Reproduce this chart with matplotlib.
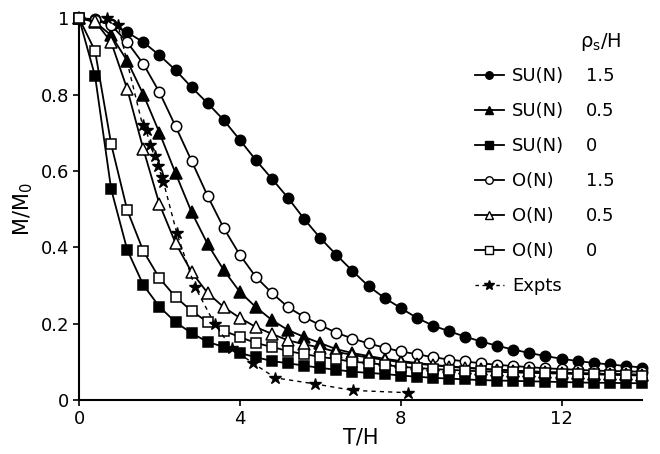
import matplotlib
matplotlib.use("Agg")
import matplotlib.pyplot as plt
from matplotlib.lines import Line2D

plt.rcParams['font.family'] = ['DejaVu Sans']

# model curves, sampled every 0.4 in T/H
t_model = [0.0, 0.4, 0.8, 1.2, 1.6, 2.0, 2.4, 2.8, 3.2, 3.6, 4.0, 4.4,
           4.8, 5.2, 5.6, 6.0, 6.4, 6.8, 7.2, 7.6, 8.0, 8.4, 8.8, 9.2,
           9.6, 10.0, 10.4, 10.8, 11.2, 11.6, 12.0, 12.4, 12.8, 13.2, 13.6, 14.0]

su_15 = [1.0, 0.997, 0.985, 0.963, 0.937, 0.903, 0.864, 0.819, 0.777, 0.733, 0.681, 0.628,
         0.579, 0.529, 0.474, 0.424, 0.380, 0.338, 0.298, 0.267, 0.241, 0.215, 0.195, 0.180,
         0.166, 0.153, 0.142, 0.132, 0.123, 0.115, 0.108, 0.102, 0.097, 0.093, 0.089, 0.085]
su_05 = [1.0, 0.99, 0.955, 0.888, 0.80, 0.70, 0.594, 0.492, 0.408, 0.340, 0.283, 0.243,
         0.209, 0.183, 0.165, 0.149, 0.133, 0.123, 0.115, 0.108, 0.102, 0.097, 0.092, 0.088,
         0.085, 0.082, 0.079, 0.077, 0.075, 0.073, 0.072, 0.070, 0.069, 0.068, 0.067, 0.066]
su_0 = [1.0, 0.848, 0.552, 0.393, 0.301, 0.244, 0.204, 0.175, 0.152, 0.139, 0.123, 0.112,
        0.102, 0.096, 0.090, 0.084, 0.079, 0.074, 0.071, 0.068, 0.064, 0.061, 0.058, 0.056,
        0.054, 0.052, 0.051, 0.050, 0.049, 0.048, 0.047, 0.046, 0.045, 0.045, 0.044, 0.044]
o_15 = [1.0, 0.995, 0.982, 0.937, 0.880, 0.806, 0.717, 0.626, 0.534, 0.450, 0.380, 0.322,
        0.280, 0.243, 0.217, 0.196, 0.176, 0.161, 0.148, 0.137, 0.127, 0.120, 0.112, 0.106,
        0.101, 0.096, 0.092, 0.089, 0.086, 0.083, 0.081, 0.079, 0.077, 0.076, 0.075, 0.074]
o_05 = [1.0, 0.992, 0.937, 0.814, 0.657, 0.513, 0.411, 0.335, 0.280, 0.243, 0.215, 0.191,
        0.173, 0.156, 0.146, 0.137, 0.126, 0.118, 0.111, 0.105, 0.099, 0.095, 0.091, 0.087,
        0.084, 0.081, 0.079, 0.077, 0.075, 0.073, 0.071, 0.070, 0.069, 0.068, 0.067, 0.066]
o_0 = [1.0, 0.914, 0.670, 0.497, 0.390, 0.319, 0.270, 0.233, 0.204, 0.181, 0.165, 0.149,
       0.139, 0.128, 0.120, 0.113, 0.107, 0.100, 0.097, 0.092, 0.087, 0.084, 0.081, 0.079,
       0.077, 0.075, 0.074, 0.072, 0.071, 0.070, 0.069, 0.068, 0.067, 0.066, 0.065, 0.064]

# experiment
t_exp = [0.7, 0.97, 1.58, 1.68, 1.76, 1.88, 1.96, 2.06, 2.1, 2.43, 2.88, 3.37,
         3.8, 4.32, 4.88, 5.87, 6.82, 8.19]
m_exp = [1.0, 0.983, 0.72, 0.706, 0.668, 0.64, 0.612, 0.585, 0.571, 0.438, 0.297, 0.2,
         0.135, 0.097, 0.058, 0.042, 0.025, 0.019]

names = ['SU(N)', 'SU(N)', 'SU(N)', 'O(N)', 'O(N)', 'O(N)']
rho = ['1.5', '0.5', '0', '1.5', '0.5', '0']
curves = [su_15, su_05, su_0, o_15, o_05, o_0]
marks = ['o', '^', 's', 'o', '^', 's']
fills = ['k', 'k', 'k', 'w', 'w', 'w']
sizes = [7.5, 8, 7.5, 7.5, 8, 7.5]

fig = plt.figure(figsize=(6.6, 4.54), dpi=100)
ax = fig.add_axes([0.1197, 0.119, 0.853, 0.841])

handles = []
for y, m, fc, ms in zip(curves, marks, fills, sizes):
    ax.plot(t_model, y, color='k', lw=1.3, marker=m, ms=ms, mfc=fc, mec='k',
            mew=1.1, clip_on=False, zorder=3)
    handles.append(Line2D([], [], color='k', lw=1.3, marker=m, ms=ms * 0.72,
                          mfc=fc, mec='k', mew=1.0))

ax.plot(t_exp, m_exp, color='k', lw=1.0, ls=(0, (3, 3)), marker='*', ms=9,
        mfc='k', mec='k', clip_on=False, zorder=4)
handles.append(Line2D([], [], color='k', lw=1.0, ls=(0, (2.5, 2.5)), marker='*',
                      ms=7, mfc='k', mec='k'))

ax.set_xlim(0, 14.0)
ax.set_ylim(0, 1)
ax.set_xticks([0, 4, 8, 12])
ax.set_xticklabels(['0', '4', '8', '12'])
ax.set_yticks([0, 0.2, 0.4, 0.6, 0.8, 1.0])
ax.set_yticklabels(['0', '0.2', '0.4', '0.6', '0.8', '1'])
ax.tick_params(direction='out', length=4, width=1.2, labelsize=13, pad=3)
for s in ['top', 'right']:
    ax.spines[s].set_visible(False)
for s in ['left', 'bottom']:
    ax.spines[s].set_linewidth(1.5)

ax.set_xlabel('T/H', fontsize=15, labelpad=0)
ax.set_ylabel('M/M$\\mathregular{_0}$', fontsize=15, labelpad=4)

leg1 = ax.legend(handles, names + ['Expts'], loc='upper left',
                 bbox_to_anchor=(475 / 660, 1 - 67 / 454), bbox_transform=fig.transFigure,
                 frameon=False, fontsize=13, handlelength=1.6, handletextpad=0.45,
                 labelspacing=0.94, borderpad=0, borderaxespad=0)
ax.add_artist(leg1)
empty = [Line2D([], [], color='none') for _ in rho]
ax.legend(empty, rho, loc='upper left',
          bbox_to_anchor=(586 / 660, 1 - 67 / 454), bbox_transform=fig.transFigure,
          frameon=False, fontsize=13, handlelength=0, handletextpad=0,
          labelspacing=0.94, borderpad=0, borderaxespad=0)
fig.text(601 / 660, 1 - 42 / 454, 'ρ$\\mathregular{_s}$/H', fontsize=14,
         ha='center', va='center')

fig.savefig('out.png', dpi=100)
